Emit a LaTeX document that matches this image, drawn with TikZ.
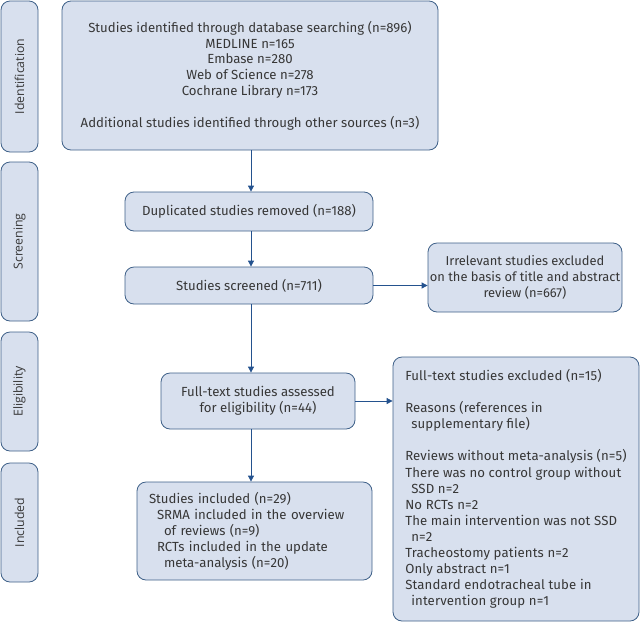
\documentclass[tikz,border=0pt]{standalone}
\usepackage{fontspec}
\setmainfont{Fira Sans}
\newfontfamily\sidefont{Open Sans}
\usetikzlibrary{arrows.meta}
\definecolor{boxfill}{RGB}{216,224,238}
\definecolor{boxline}{RGB}{62,96,136}
\definecolor{arrowblue}{RGB}{36,82,142}
\definecolor{textgray}{RGB}{55,55,55}
\tikzset{
	box/.style={draw=boxline, fill=boxfill, line width=0.8pt, rounded corners=9pt, text=textgray, font=\fontsize{13.2}{15.8}\selectfont, inner sep=0pt},
	stage/.style={box, minimum width=37pt, rotate=90, font=\sidefont\fontsize{12.3}{14}\selectfont},
	flow/.style={draw=arrowblue, line width=0.8pt, -{Triangle[length=6pt,width=6pt]}}
}
\begin{document}
\begin{tikzpicture}[x=1pt, y=-1pt]
	\useasboundingbox (0,0) rectangle (640,622);
	\node[stage, minimum width=151pt, minimum height=37pt] (ident) at (19.5,76.5) {Identification};
	\node[stage, minimum width=159pt, minimum height=37pt] (screen) at (19.5,241.5) {Screening};
	\node[stage, minimum width=119pt, minimum height=37pt] (elig) at (19.5,391.5) {Eligibility};
	\node[stage, minimum width=119pt, minimum height=37pt] (incl) at (19.5,522.5) {Included};
	\node[box, minimum width=376pt, minimum height=149pt, align=center] (found) at (250,75.5) {Studies identified through database searching (n=896)\\MEDLINE n=165\\Embase n=280\\Web of Science n=278\\Cochrane Library n=173\\[15.8pt]Additional studies identified through other sources (n=3)};
	\node[box, minimum width=248pt, minimum height=39pt] (dup) at (249,211.5) {Duplicated studies removed (n=188)};
	\node[box, minimum width=248pt, minimum height=37pt] (screened) at (249,285.5) {Studies screened (n=711)};
	\node[box, minimum width=194pt, minimum height=69pt, align=center, font=\fontsize{12.9}{15.8}\selectfont] (irrel) at (525,277.5) {Irrelevant studies excluded\\on the basis of title and abstract\\review (n=667)};
	\node[box, minimum width=194pt, minimum height=56pt, align=center] (fulltext) at (258,401) {Full-text studies assessed\\for eligibility (n=44)};
	\node[box, minimum width=235pt, minimum height=98pt, text width=211pt, align=left, font=\fontsize{13.2}{16}\selectfont] (included) at (254.5,531) {Studies included (n=29)\\\hspace*{8pt}SRMA included in the overview\\\hspace*{15pt}of reviews (n=9)\\\hspace*{8pt}RCTs included in the update\\\hspace*{15pt}meta-analysis (n=20)};
	\node[box, minimum width=246pt, minimum height=264pt, align=left, font=\fontsize{13.2}{16.1}\selectfont\addfontfeature{LetterSpace=1}] (excluded) at (516,489) {Full-text studies excluded (n=15)\\[16.1pt]Reasons (references in\\\hspace*{6pt}supplementary file)\\[16.1pt]Reviews without meta-analysis (n=5)\\There was no control group without\\\hspace*{6pt}SSD n=2\\No RCTs n=2\\The main intervention was not SSD\\\hspace*{6pt}n=2\\Tracheostomy patients n=2\\Only abstract n=1\\Standard endotracheal tube in\\\hspace*{6pt}intervention group n=1};
	\coordinate (spine) at (251,0);
	\draw[flow] (spine |- found.south) -- (spine |- dup.north);
	\draw[flow] (spine |- dup.south) -- (spine |- screened.north);
	\draw[flow] (screened.east) -- (irrel.west |- screened.east);
	\draw[flow] (spine |- screened.south) -- (spine |- fulltext.north);
	\draw[flow] (fulltext.east) -- (excluded.west |- fulltext.east);
	\draw[flow] (spine |- fulltext.south) -- (spine |- included.north);
\end{tikzpicture}
\end{document}
